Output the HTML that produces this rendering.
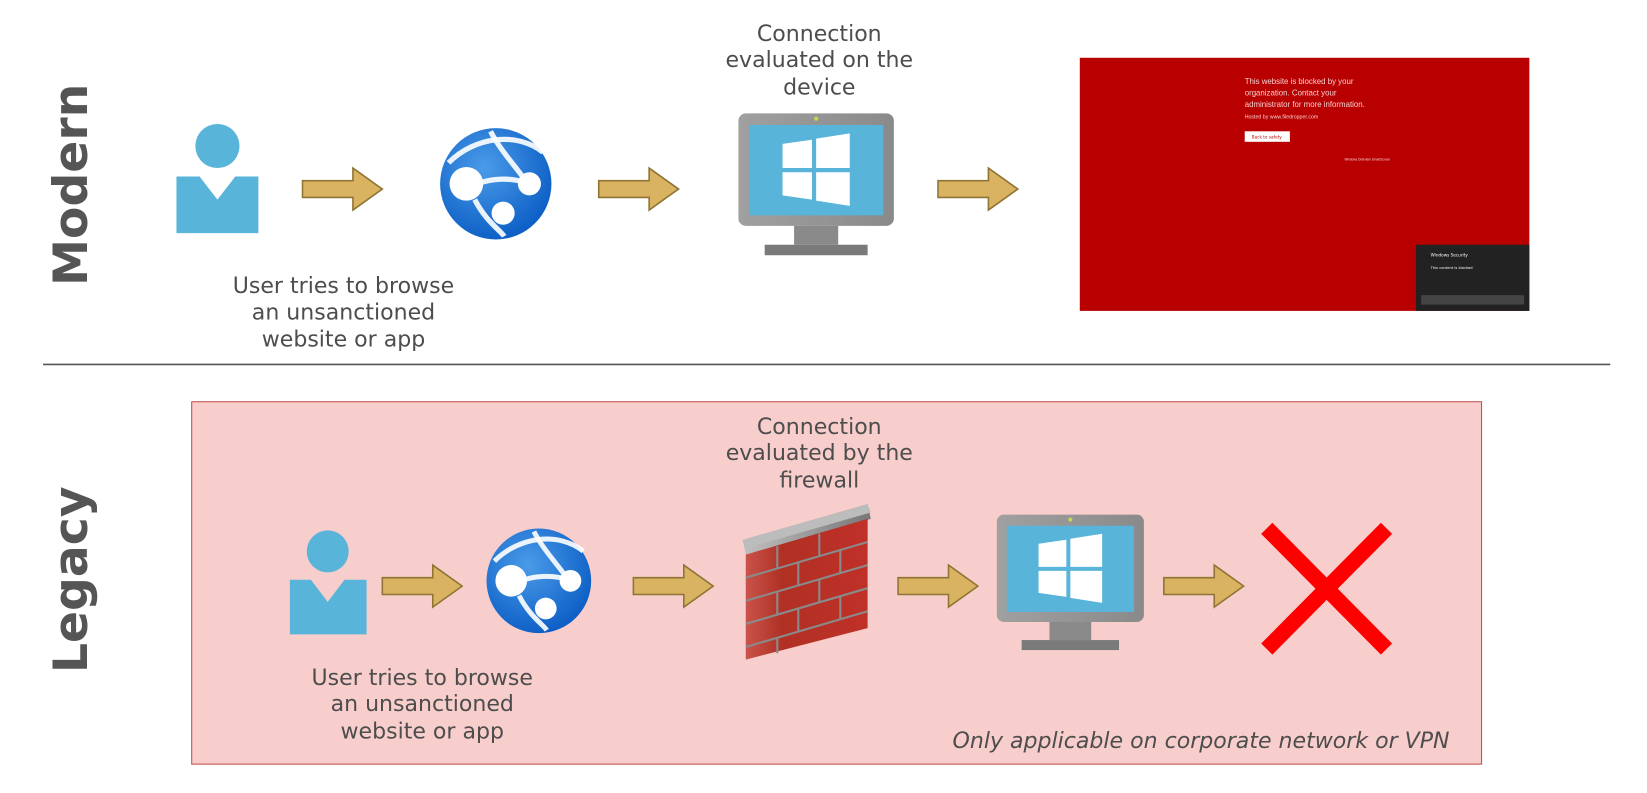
<!DOCTYPE html>
<html><head><meta charset="utf-8"><style>
html,body{margin:0;padding:0;background:#fff;}
svg{display:block;font-family:"DejaVu Sans","Liberation Sans",sans-serif;}
</style></head><body>
<svg width="1647" height="793" viewBox="0 0 1568 755" preserveAspectRatio="none" xmlns="http://www.w3.org/2000/svg">
<defs>
<radialGradient id="gl" cx="0.4" cy="0.35" r="0.7"><stop offset="0" stop-color="#4a9be8"/><stop offset="1" stop-color="#0a5cc4"/></radialGradient>
<linearGradient id="mon" x1="0" y1="0" x2="1" y2="0"><stop offset="0" stop-color="#a0a0a0"/><stop offset="1" stop-color="#8a8a8a"/></linearGradient>
<linearGradient id="brick" x1="0" y1="0" x2="1" y2="0"><stop offset="0" stop-color="#c9534a"/><stop offset="0.3" stop-color="#b03024"/><stop offset="1" stop-color="#c03028"/></linearGradient>
<linearGradient id="cap" x1="0" y1="0" x2="1" y2="0"><stop offset="0" stop-color="#c0c0c0"/><stop offset="1" stop-color="#777"/></linearGradient>
<g id="arrow"><path d="M0,12 H48 V0 L76,20 L48,40 V28 H0 Z" fill="#d9b262" stroke="#8f7433" stroke-width="1.5"/></g>
<g id="globe">
<circle cx="0" cy="0" r="53" fill="url(#gl)"/>
<path d="M-45,-20 C-20,-45 20,-50 45,-30" stroke="#fff" stroke-width="5" fill="none" opacity="0.9"/>
<path d="M-35,10 C-10,-10 20,-5 32,0" stroke="#fff" stroke-width="5" fill="none" opacity="0.9"/>
<path d="M-20,15 C-10,35 5,45 8,50" stroke="#fff" stroke-width="5" fill="none" opacity="0.9"/>
<path d="M-5,-50 C5,-30 25,-10 30,0" stroke="#fff" stroke-width="5" fill="none" opacity="0.9"/>
<circle cx="-28" cy="0" r="16" fill="#fff"/>
<circle cx="32" cy="0" r="11" fill="#fff"/>
<circle cx="7" cy="28" r="11" fill="#fff"/>
</g>
<g id="monitor">
<rect x="0" y="0" width="148" height="107" rx="7" fill="url(#mon)"/>
<rect x="10" y="11" width="128" height="86" fill="#59b4d9"/>
<circle cx="74" cy="5" r="2" fill="#c8d848"/>
<rect x="53" y="107" width="42" height="18" fill="#8a8a8a"/>
<rect x="25" y="125" width="98" height="10" fill="#7a7a7a"/>
<path d="M42,29 L70,25 V52 H42 Z M74,24 L106,19 V52 H74 Z M42,56 H70 V82 L42,78 Z M74,56 H106 V88 L74,83 Z" fill="#fff"/>
</g>
</defs>

<!-- Modern -->
<text transform="translate(83,176) rotate(-90)" text-anchor="middle" font-size="45" font-weight="bold" fill="#555">Modern</text>
<circle cx="207" cy="139" r="21" fill="#59b4d9"/>
<path d="M168,168 H190 L207,190 L224,168 H246 V222 H168 Z" fill="#59b4d9"/>
<use href="#arrow" x="288" y="160"/>
<use href="#globe" x="472" y="175"/>
<use href="#arrow" x="570" y="160"/>
<g transform="translate(703,108)"><use href="#monitor"/></g>
<use href="#arrow" x="893" y="160"/>
<g font-size="21" fill="#4d4d4d" text-anchor="middle">
<text x="780" y="39">Connection</text><text x="780" y="64">evaluated on the</text><text x="780" y="90">device</text>
<text x="327" y="279">User tries to browse</text><text x="327" y="304">an unsanctioned</text><text x="327" y="330">website or app</text>
</g>
<rect x="1028" y="55" width="428" height="241" fill="#b80000"/>
<g fill="#f6d0d0" font-size="7.5" font-family="Liberation Sans"><text x="1185" y="80">This website is blocked by your</text><text x="1185" y="91">organization. Contact your</text><text x="1185" y="102">administrator for more information.</text><text x="1185" y="113" font-size="5">Hosted by www.filedropper.com</text><text x="1280" y="153" font-size="3">Windows Defender SmartScreen</text></g>
<rect x="1185" y="125" width="43" height="10" fill="#fff"/>
<text x="1206" y="132" font-size="4" fill="#b80000" text-anchor="middle">Back to safety</text>
<rect x="1348" y="233" width="108" height="63" fill="#222"/>
<text x="1362" y="244" font-size="4" fill="#fff">Windows Security</text>
<text x="1362" y="256" font-size="3.5" fill="#fff">This content is blocked</text>
<rect x="1353" y="281" width="98" height="9" fill="#444"/>

<line x1="41" y1="347" x2="1533" y2="347" stroke="#555" stroke-width="1.5"/>

<!-- Legacy -->
<text transform="translate(83,552) rotate(-90)" text-anchor="middle" font-size="45" font-weight="bold" fill="#555">Legacy</text>
<rect x="182.5" y="382.5" width="1228" height="345" fill="#f8cecc" stroke="#c0504d" stroke-width="1"/>
<circle cx="312" cy="525" r="20" fill="#59b4d9"/>
<path d="M276,552 H296 L312,573 L328,552 H349 V604 H276 Z" fill="#59b4d9"/>
<use href="#arrow" x="364" y="538"/>
<g transform="translate(513,553) scale(0.94)"><use href="#globe"/></g>
<use href="#arrow" x="603" y="538"/>
<!-- firewall -->
<path d="M707,514 L826,480 L829,494 L710,528 Z" fill="url(#cap)"/>
<path d="M707,514 L826,480 L829,488 L710,522 Z" fill="#bcbcbc"/>
<path d="M710,528 L826,494 V598 L710,628 Z" fill="url(#brick)"/>
<g stroke="#8a8a8a" stroke-width="2" fill="none">
<path d="M710,550 L826,516 M710,572 L826,538 M710,594 L826,560 M710,616 L826,582"/>
<path d="M740,520 V542 M780,508 V530 M760,536 V558 M800,524 V546 M740,564 V586 M780,552 V574 M760,580 V602 M800,568 V590 M740,608 V622"/>
</g>
<use href="#arrow" x="855" y="538"/>
<g transform="translate(949,490) scale(0.946,0.955)"><use href="#monitor"/></g>
<use href="#arrow" x="1108" y="538"/>
<path d="M1206,503 L1320,618 M1320,503 L1206,618" stroke="#ff0000" stroke-width="15"/>
<g font-size="21" fill="#4d4d4d" text-anchor="middle">
<text x="780" y="413">Connection</text><text x="780" y="438">evaluated by the</text><text x="780" y="464">firewall</text>
<text x="402" y="652">User tries to browse</text><text x="402" y="677">an unsanctioned</text><text x="402" y="703">website or app</text>
</g>
<text x="1380" y="712" font-size="21" font-style="italic" fill="#4d4d4d" text-anchor="end">Only applicable on corporate network or VPN</text>
</svg>
</body></html>
